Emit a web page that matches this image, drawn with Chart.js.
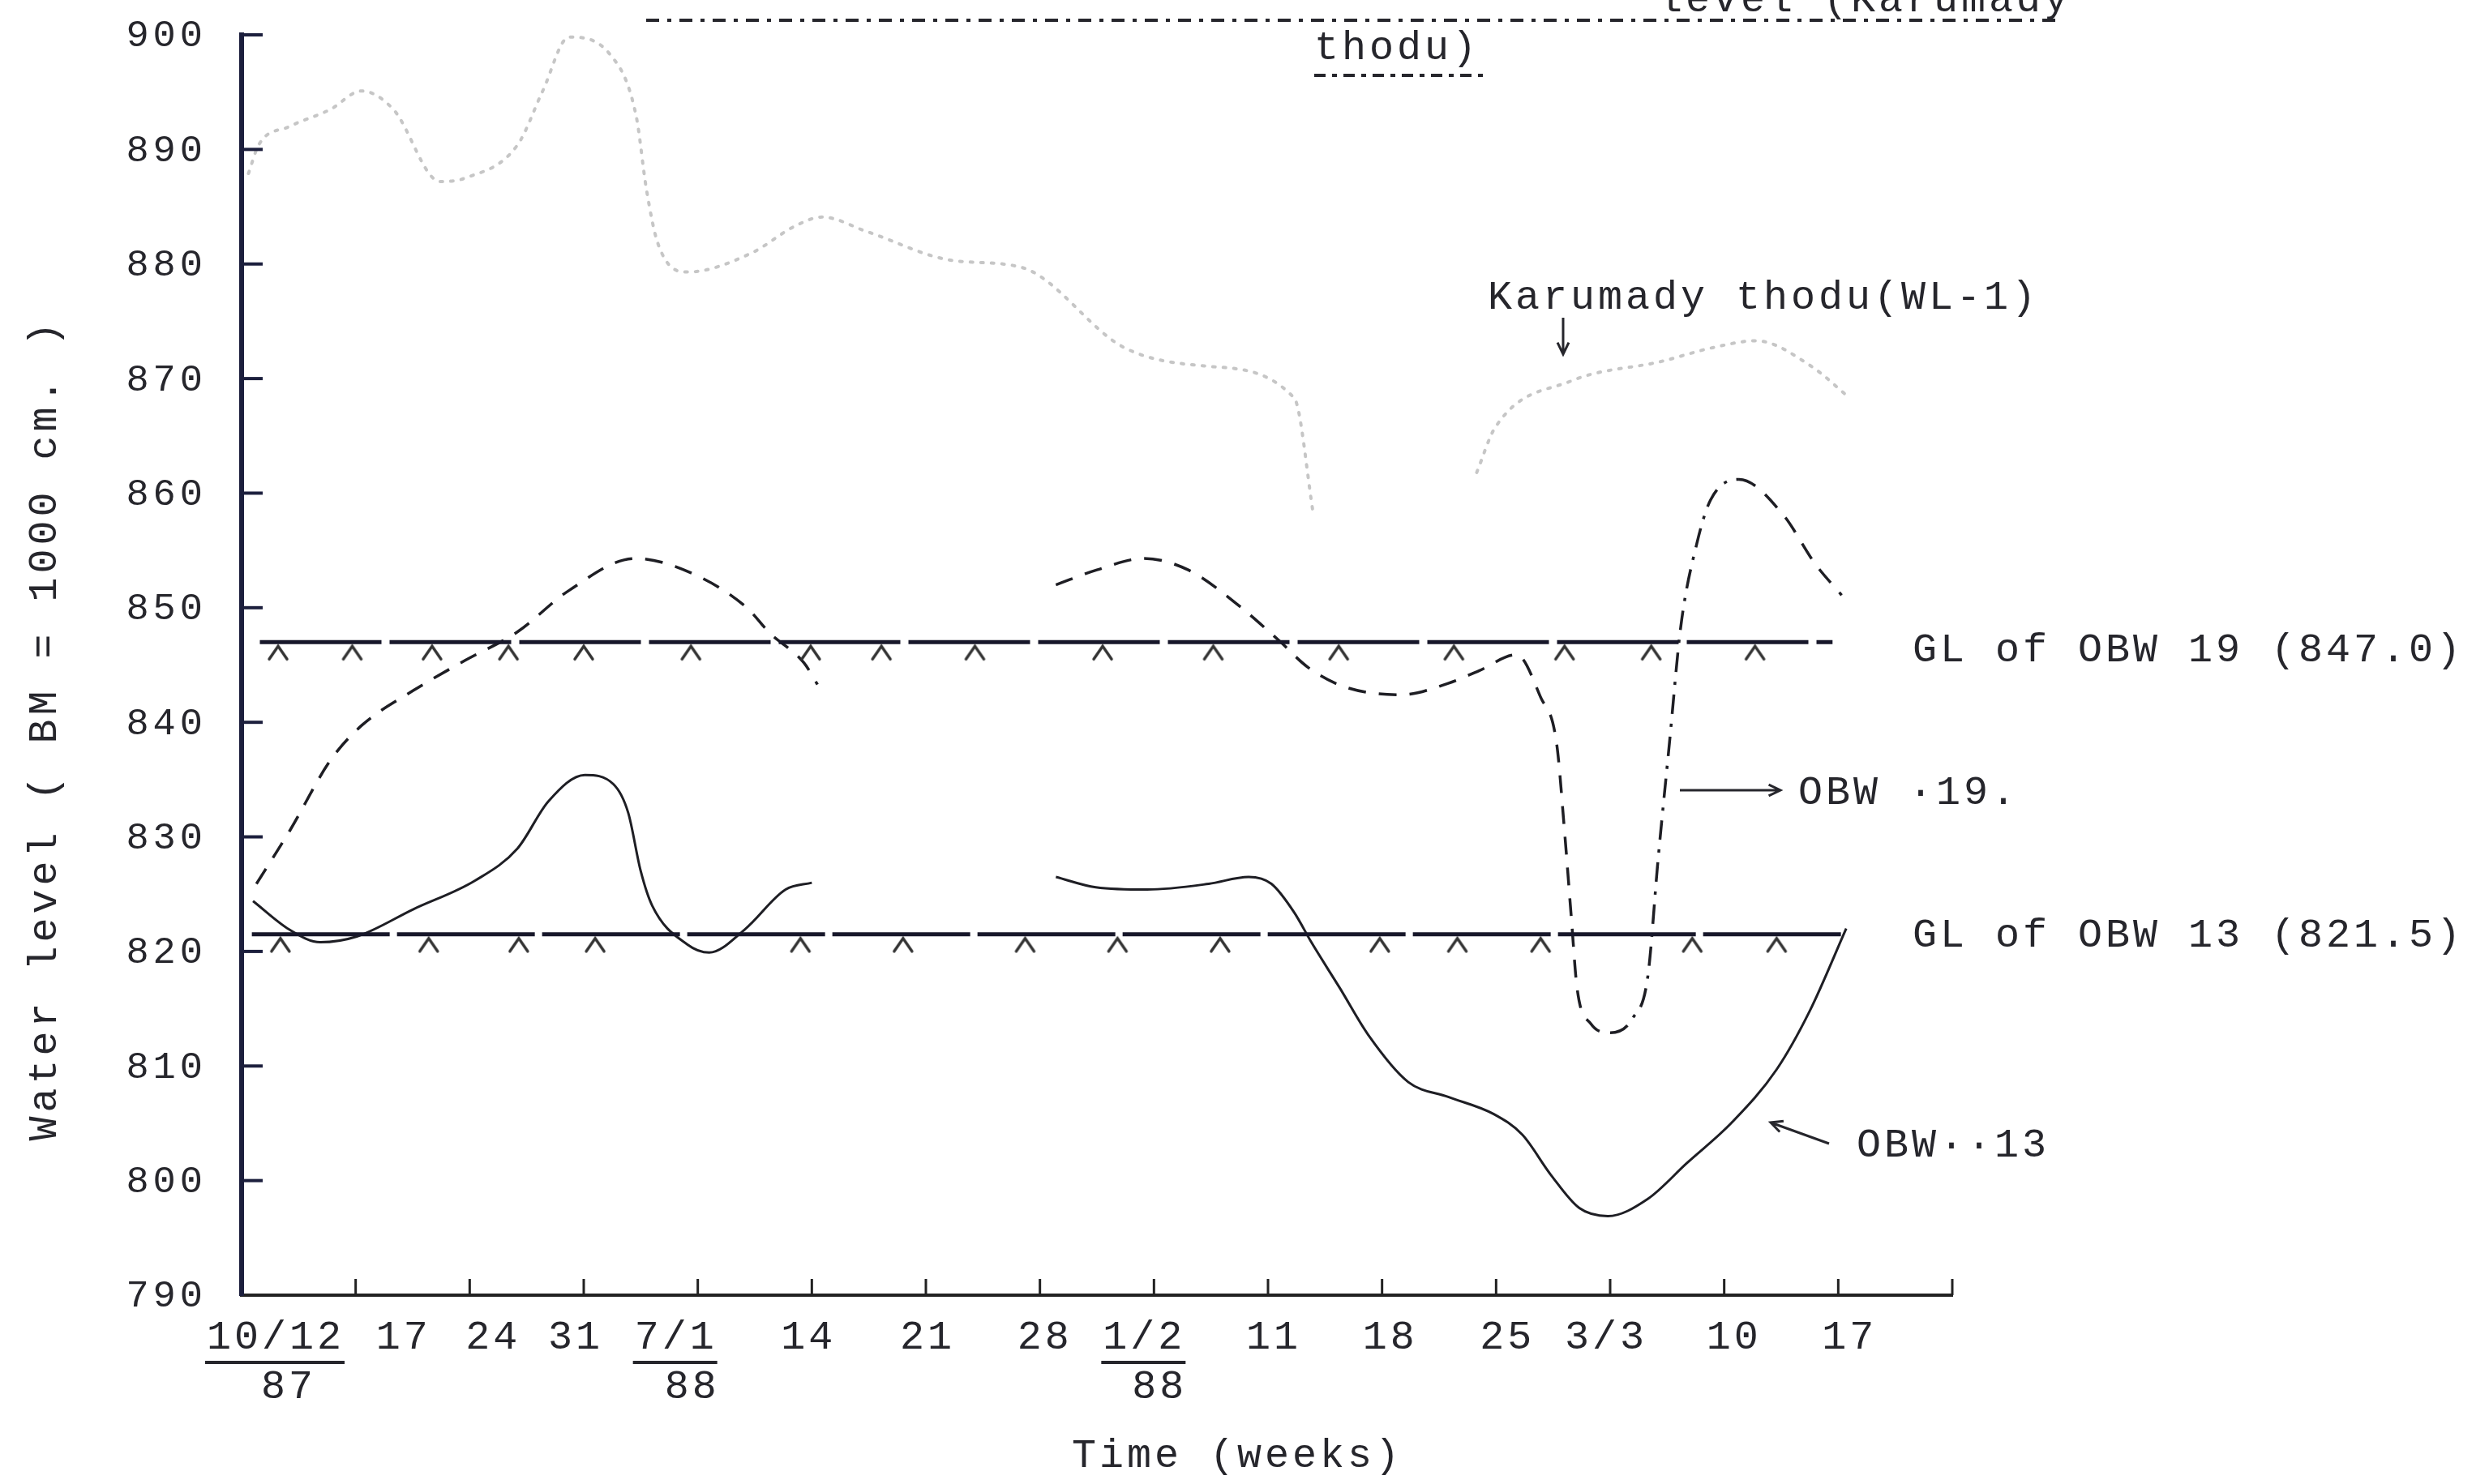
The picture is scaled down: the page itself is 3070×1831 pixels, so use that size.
<!DOCTYPE html>
<html>
<head>
<meta charset="utf-8">
<title>Water level - OBW 13, OBW 19, Karumady thodu</title>
<script src="https://cdn.jsdelivr.net/npm/chart.js@4.4.1/dist/chart.umd.min.js"></script>
<style>
  html, body { margin: 0; padding: 0; background: #fff; }
  #wrap { width: 3070px; height: 1831px; }
</style>
</head>
<body>
<div id="wrap"><canvas id="levels" width="3070" height="1831"></canvas></div>
<script>
// x is counted in weeks from 10/12/87, y is water level (BM = 1000 cm)
const weekLabels = ['10/12', '17', '24', '31', '7/1', '14', '21', '28', '1/2', '11', '18', '25', '3/3', '10', '17'];
const yearLabels = ['87', '', '', '', '88', '', '', '', '88', '', '', '', '', '', ''];

// Karumady thodu (WL-1), stream level
const wl1Weeks = [0.06, 0.15, 0.42, 0.78, 1.05, 1.33, 1.74, 1.96, 2.42, 2.64, 2.87, 3.23, 3.46, 3.55, 3.65, 3.91,
  4.46, 4.87, 5.09, 5.49, 6.24, 6.84, 7.74, 8.44, 9.23, 9.4, 10.1, 10.83, 10.99, 11.66, 12.45, 12.9, 13.28, 13.76, 14.1];
const wl1Level = [887.9, 890.4, 892, 893.5, 895.1, 893.5, 887.2, 887.5, 890.4, 895.1, 899.8, 898.3, 892.9, 886.5, 881.8, 879.3,
  880.9, 883.4, 884.1, 882.8, 880.3, 879.7, 872.7, 871.1, 868.3, 858, null, 861.8, 865.7, 869.8, 871.5, 872.7, 873.3, 871.1, 868.3];

// OBW 19
const obw19Weeks = [0.13, 0.42, 0.78, 1.05, 1.51, 1.96, 2.42, 2.87, 3.45, 3.95, 4.43, 4.63, 4.93, 5.05, 6.1,
  7.14, 7.5, 7.91, 8.3, 8.73, 9.1, 9.35, 9.67, 10.17, 10.58, 10.85, 11.18, 11.39, 11.53, 11.6, 11.66, 11.71, 11.83,
  12.0, 12.2, 12.33, 12.42, 12.52, 12.62, 12.76, 12.88, 13.13, 13.51, 13.8, 14.03];
const obw19Level = [825.9, 830.5, 836.7, 839.7, 842.8, 845.4, 847.9, 851.5, 854.3, 853.0, 850, 847.8, 845.2, 843.3, null,
  852, 853.3, 854.3, 853.3, 850.3, 847.1, 844.8, 843.1, 842.4, 843.4, 844.5, 845.9, 842.2, 838.2, 830.5, 822.9, 816.8, 813.7,
  812.9, 814.2, 817.8, 828, 838.2, 848.4, 855.6, 859.4, 861.2, 858.2, 853.8, 851.1];

// OBW 13
const obw13Weeks = [0.1, 0.42, 0.69, 1.01, 1.51, 2.05, 2.42, 2.69, 3.01, 3.26, 3.39, 3.5, 3.6, 3.91, 4.1, 4.41, 4.77, 5.0, 6.1,
  7.14, 7.49, 7.94, 8.48, 8.83, 9.03, 9.23, 9.38, 9.63, 9.88, 10.23, 10.58, 10.98, 11.23, 11.48, 11.73, 11.98,
  12.33, 12.67, 13.07, 13.46, 13.75, 14.07];
const obw13Level = [824.4, 821.9, 820.8, 821.3, 823.7, 826.2, 829, 833.1, 835.4, 834.6, 832.1, 827, 824, 820.6, 819.9, 821.9, 825.4, 826, null,
  826.5, 825.6, 825.4, 825.9, 826.5, 825.9, 823.4, 820.8, 816.8, 812.7, 808.6, 807.3, 805.8, 804, 800.5, 797.6, 796.9,
  798.4, 801.5, 805.1, 809.7, 814.8, 822];

// ground levels of the two wells and the x marks typed along them
const gl19Level = 847.0;
const gl13Level = 821.5;
const gl19Span = [0.16, 13.95];
const gl13Span = [0.09, 14.08];
const gl19Marks = [0.32, 0.97, 1.67, 2.34, 3.0, 3.94, 4.99, 5.61, 6.43, 7.55, 8.52, 9.62, 10.63, 11.6, 12.36, 13.27];
const gl13Marks = [0.34, 1.64, 2.43, 3.1, 4.9, 5.8, 6.87, 7.68, 8.58, 9.98, 10.66, 11.39, 12.72, 13.46];

const INK = '#26262c';
const FONT = '50px "Liberation Mono", "DejaVu Sans Mono", monospace';
const TICK_FONT = '47px "Liberation Mono", "DejaVu Sans Mono", monospace';

// the typed date labels do not sit exactly under their ticks
const labelShift = [40, 57, 27, -12, -29, -6, 0, 4, -14, 5, 8, 12, -7, 10, 12];
const yearShift = [56, 0, 0, 0, -9, 0, 0, 0, 5, 0, 0, 0, 0, 0, 0];

const toPoints = (xs, ys) => xs.map((w, i) => ({ x: w, y: ys[i] }));

// little "^" mark drawn just under a line
function caret() {
  const c = document.createElement('canvas');
  c.width = 40;
  c.height = 60;
  const g = c.getContext('2d');
  g.strokeStyle = '#333';
  g.lineWidth = 3.5;
  g.lineCap = 'round';
  g.beginPath();
  g.moveTo(9, 51);
  g.lineTo(20, 35);
  g.lineTo(31, 51);
  g.stroke();
  return c;
}
const caretMark = caret();

function typeText(ctx, text, x, y, align, font, spacing) {
  ctx.save();
  ctx.font = font || FONT;
  ctx.letterSpacing = (spacing === undefined ? 4 : spacing) + 'px';
  ctx.textAlign = align || 'left';
  ctx.textBaseline = 'middle';
  ctx.fillStyle = INK;
  ctx.fillText(text, x, y);
  ctx.restore();
}

function textWidth(ctx, text) {
  ctx.save();
  ctx.font = FONT;
  ctx.letterSpacing = '4px';
  const w = ctx.measureText(text).width;
  ctx.restore();
  return w;
}

function arrow(ctx, x1, y1, x2, y2) {
  const a = Math.atan2(y2 - y1, x2 - x1);
  ctx.save();
  ctx.strokeStyle = INK;
  ctx.lineWidth = 3;
  ctx.beginPath();
  ctx.moveTo(x1, y1);
  ctx.lineTo(x2, y2);
  ctx.moveTo(x2 - 16 * Math.cos(a - 0.45), y2 - 16 * Math.sin(a - 0.45));
  ctx.lineTo(x2, y2);
  ctx.lineTo(x2 - 16 * Math.cos(a + 0.45), y2 - 16 * Math.sin(a + 0.45));
  ctx.stroke();
  ctx.restore();
}

function dashedRule(ctx, x1, x2, y, dash) {
  ctx.save();
  ctx.strokeStyle = INK;
  ctx.lineWidth = 4;
  ctx.setLineDash(dash);
  ctx.beginPath();
  ctx.moveTo(x1, y);
  ctx.lineTo(x2, y);
  ctx.stroke();
  ctx.restore();
}

// axis ticks, labels and the typed notes around the plot
const decorations = {
  id: 'decorations',
  afterDraw(chart) {
    const { ctx, chartArea, scales: { x, y } } = chart;

    ctx.save();
    ctx.strokeStyle = '#1c1f3d';
    ctx.lineWidth = 4;
    y.ticks.forEach(t => {
      const py = y.getPixelForValue(t.value);
      if (t.value > 790) {
        ctx.beginPath();
        ctx.moveTo(chartArea.left, py);
        ctx.lineTo(chartArea.left + 26, py);
        ctx.stroke();
      }
      typeText(ctx, String(t.value), chartArea.left - 43, py + 2, 'right', TICK_FONT, 5);
    });

    ctx.strokeStyle = '#222';
    ctx.lineWidth = 3;
    for (let w = 1; w <= 15; w++) {
      const px = x.getPixelForValue(w);
      ctx.beginPath();
      ctx.moveTo(px, chartArea.bottom);
      ctx.lineTo(px, chartArea.bottom - 20);
      ctx.stroke();
    }
    ctx.restore();

    weekLabels.forEach((label, i) => {
      const px = x.getPixelForValue(i) + labelShift[i];
      typeText(ctx, label, px + 2, 1651, 'center');
      if (yearLabels[i]) {
        const w = textWidth(ctx, label);
        dashedRule(ctx, px - w / 2, px + w / 2 + 2, 1681, []);
        typeText(ctx, yearLabels[i], x.getPixelForValue(i) + yearShift[i] + 2, 1712, 'center');
      }
    });

    typeText(ctx, 'Time (weeks)', 1322, 1797);

    ctx.save();
    ctx.translate(56, 900);
    ctx.rotate(-Math.PI / 2);
    typeText(ctx, 'Water level ( BM = 1000 cm. )', 0, 0, 'center', FONT, 5);
    ctx.restore();

    // heading, cut by the top edge
    ctx.save();
    ctx.font = FONT;
    ctx.letterSpacing = '4px';
    ctx.fillStyle = INK;
    ctx.textBaseline = 'alphabetic';
    ctx.fillText('level (Karumady', 2045, 14);
    ctx.restore();
    dashedRule(ctx, 797, 2545, 25, [16, 10, 5, 10]);
    typeText(ctx, 'thodu)', 1621, 60);
    dashedRule(ctx, 1621, 1830, 93, [14, 8, 6, 8]);

    typeText(ctx, 'Karumady thodu(WL-1)', 1835, 368);
    arrow(ctx, 1928, 392, 1928, 437);

    typeText(ctx, 'GL of OBW 19 (847.0)', 2359, 803);
    typeText(ctx, 'GL of OBW 13 (821.5)', 2359, 1155);

    arrow(ctx, 2072, 975, 2196, 975);
    typeText(ctx, 'OBW ·19.', 2218, 979);

    arrow(ctx, 2256, 1411, 2184, 1385);
    typeText(ctx, 'OBW··13', 2290, 1414);
  }
};

new Chart(document.getElementById('levels'), {
  type: 'line',
  data: {
    datasets: [
      {
        label: 'Karumady thodu (WL-1)',
        data: toPoints(wl1Weeks, wl1Level),
        borderColor: '#c6c6c6',
        borderWidth: 4,
        borderDash: [3, 10],
        borderCapStyle: 'round',
        cubicInterpolationMode: 'monotone'
      },
      {
        label: 'GL of OBW 19',
        data: toPoints(gl19Span, [gl19Level, gl19Level]),
        borderColor: '#17172a',
        borderWidth: 5,
        borderDash: [150, 10]
      },
      {
        label: 'GL of OBW 13',
        data: toPoints(gl13Span, [gl13Level, gl13Level]),
        borderColor: '#17172a',
        borderWidth: 5,
        borderDash: [170, 9]
      },
      {
        label: 'GL 19 marks',
        data: gl19Marks.map(w => ({ x: w, y: gl19Level })),
        showLine: false,
        pointRadius: 5,
        pointStyle: caretMark
      },
      {
        label: 'GL 13 marks',
        data: gl13Marks.map(w => ({ x: w, y: gl13Level })),
        showLine: false,
        pointRadius: 5,
        pointStyle: caretMark
      },
      {
        label: 'OBW 19',
        data: toPoints(obw19Weeks, obw19Level),
        borderColor: '#1e1e24',
        borderWidth: 3.5,
        borderDash: [22, 16],
        cubicInterpolationMode: 'monotone',
        segment: {
          borderDash: c => (c.p0.parsed.x >= 12.0 && c.p0.parsed.x < 13.0) ? [24, 12, 4, 12] : undefined
        }
      },
      {
        label: 'OBW 13',
        data: toPoints(obw13Weeks, obw13Level),
        borderColor: '#1e1e24',
        borderWidth: 3,
        cubicInterpolationMode: 'monotone'
      }
    ]
  },
  options: {
    responsive: false,
    animation: false,
    devicePixelRatio: 1,
    spanGaps: false,
    elements: { point: { radius: 0 } },
    layout: { padding: { left: 298, right: 662, top: 43, bottom: 233 } },
    plugins: { legend: { display: false }, tooltip: { enabled: false }, title: { display: false } },
    scales: {
      x: {
        type: 'linear',
        min: 0,
        max: 15,
        ticks: { display: false, stepSize: 1 },
        grid: { drawOnChartArea: false, drawTicks: false },
        border: { display: true, color: '#222', width: 4, dash: [90, 12] },
        afterFit: s => { s.height = 0; }
      },
      y: {
        min: 790,
        max: 900,
        ticks: { display: false, stepSize: 10 },
        grid: { drawOnChartArea: false, drawTicks: false },
        border: { display: true, color: '#1c1f3d', width: 6 },
        afterFit: s => { s.width = 0; }
      }
    }
  },
  plugins: [decorations]
});
</script>
</body>
</html>
